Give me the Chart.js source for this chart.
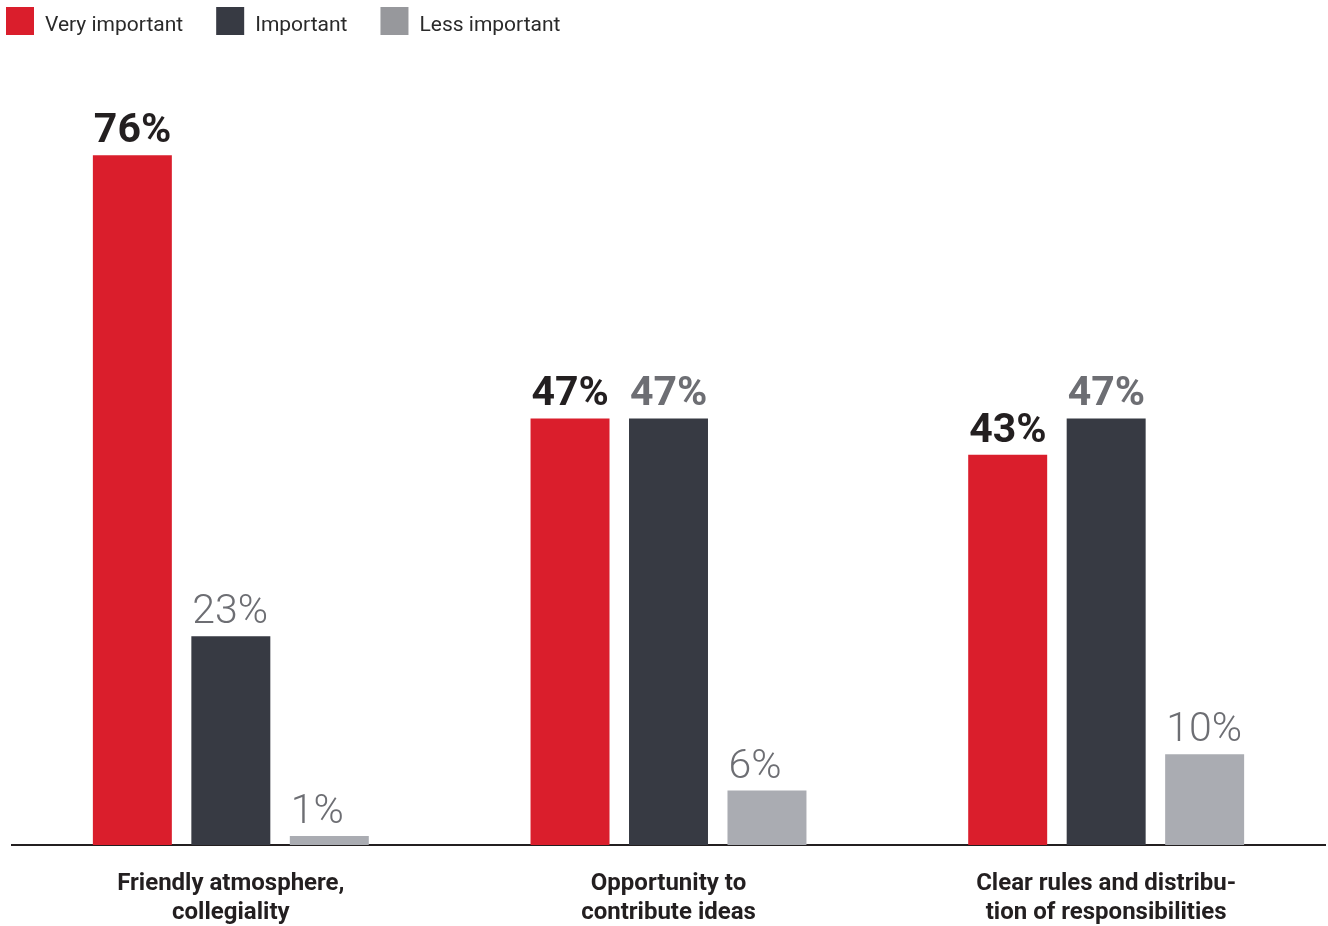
<!DOCTYPE html>
<html>
<head>
<meta charset="utf-8">
<script src="https://cdn.jsdelivr.net/npm/chart.js@4.4.1/dist/chart.umd.min.js"></script>
<style>
  html, body { margin: 0; padding: 0; background: #ffffff; }
  #wrap { position: relative; width: 1328px; height: 926px; }
</style>
</head>
<body>
<div id="wrap"><canvas id="c"></canvas></div>
<script>
const categories = [
  ["Friendly atmosphere,", "collegiality"],
  ["Opportunity to", "contribute ideas"],
  ["Clear rules and distribu-", "tion of responsibilities"]
];
const seriesNames = ["Very important", "Important", "Less important"];
const veryImportant = [76, 47, 43];
const important = [23, 47, 47];
const lessImportant = [1, 6, 10];

const barColors = ["#da1e2c", "#373a43", "#aaacb2"];
const legendColors = ["#da1e2c", "#373a43", "#97989c"];
const labelColors = ["#231f20", "#6d6e73", "#6d6e73"];
const FONT = "Roboto, 'Liberation Sans', sans-serif";

const valueLabels = {
  id: 'valueLabels',
  afterDatasetsDraw(chart) {
    const ctx = chart.ctx;
    chart.data.datasets.forEach((ds, di) => {
      const meta = chart.getDatasetMeta(di);
      meta.data.forEach((el, i) => {
        const v = ds.data[i];
        const bold = v >= 40;
        ctx.save();
        ctx.font = (bold ? '700 ' : '300 ') + '41px ' + FONT;
        ctx.fillStyle = labelColors[di];
        ctx.textAlign = 'left';
        ctx.textBaseline = 'alphabetic';
        ctx.fillText(v + '%', el.x - el.width / 2 + 1, el.y - 13);
        ctx.restore();
      });
    });
  }
};

// Legend drawn from the chart's own datasets
const topLegend = {
  id: 'topLegend',
  afterDraw(chart) {
    const ctx = chart.ctx;
    ctx.save();
    ctx.font = '400 21px ' + FONT;
    ctx.textAlign = 'left';
    ctx.textBaseline = 'middle';
    let x = 6;
    const y = 7, box = 28;
    chart.data.datasets.forEach((ds, i) => {
      ctx.fillStyle = legendColors[i];
      ctx.fillRect(x, y, box, box);
      ctx.fillStyle = '#2a2a2a';
      ctx.fillText(ds.label, x + box + 11, y + box / 2 + 5);
      x += box + 11 + ctx.measureText(ds.label).width + 33;
    });
    ctx.restore();
  }
};

const chart = new Chart(document.getElementById('c'), {
  type: 'bar',
  data: {
    labels: categories,
    datasets: [
      { label: seriesNames[0], data: veryImportant, backgroundColor: barColors[0] },
      { label: seriesNames[1], data: important, backgroundColor: barColors[1] },
      { label: seriesNames[2], data: lessImportant, backgroundColor: barColors[2] }
    ]
  },
  options: {
    responsive: true,
    maintainAspectRatio: false,
    animation: false,
    events: [],
    layout: { padding: { top: 119, left: 12, right: 3, bottom: 1 } },
    datasets: {
      bar: { categoryPercentage: 0.675, barPercentage: 0.802, borderWidth: 0 }
    },
    plugins: {
      tooltip: { enabled: false },
      legend: { display: false }
    },
    scales: {
      x: {
        grid: { display: false, drawTicks: false },
        border: { display: true, color: '#231f20', width: 2 },
        ticks: {
          color: '#231f20',
          padding: 25,
          font: { family: FONT, size: 24, weight: '700', lineHeight: 1.2 },
          maxRotation: 0,
          autoSkip: false
        },
        afterFit(scale) { scale.height = 80; }
      },
      y: {
        display: false,
        min: 0,
        max: 80
      }
    }
  },
  plugins: [valueLabels, topLegend]
});
</script>
</body>
</html>
